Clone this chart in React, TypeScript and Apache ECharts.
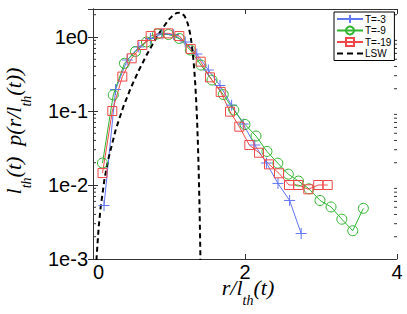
import React, { useEffect, useRef } from 'react';
import * as echarts from 'echarts';

// T=-3 (blue, plus markers)
const xT3 = [0.145, 0.297, 0.45, 0.603, 0.755, 0.908, 1.061, 1.213, 1.366, 1.518, 1.671, 1.824, 1.976, 2.129, 2.282, 2.434, 2.587, 2.739];
const yT3 = [0.00528, 0.195, 0.489, 0.733, 0.954, 1.1, 1.08, 0.856, 0.589, 0.358, 0.221, 0.12, 0.0667, 0.0347, 0.0198, 0.0105, 0.00618, 0.00221];

// T=-9 (green, circles)
const xT9 = [0.125, 0.267, 0.414, 0.559, 0.704, 0.849, 0.993, 1.136, 1.28, 1.421, 1.566, 1.714, 1.853, 2.0, 2.145, 2.289, 2.432, 2.57, 2.704, 2.842, 2.987, 3.132, 3.274, 3.418, 3.557];
const yT9 = [0.0198, 0.165, 0.441, 0.637, 0.856, 1.1, 1.08, 0.954, 0.667, 0.418, 0.262, 0.167, 0.103, 0.0657, 0.0459, 0.0284, 0.0197, 0.014, 0.0113, 0.00889, 0.00618, 0.00505, 0.00345, 0.00241, 0.00484];

// T=-19 (red, squares)
const xT19 = [0.125, 0.254, 0.386, 0.509, 0.649, 0.759, 0.872, 0.991, 1.136, 1.286, 1.417, 1.539, 1.68, 1.803, 1.925, 2.057, 2.184, 2.316, 2.447, 2.579, 2.701, 2.833, 2.964, 3.088];
const yT19 = [0.0145, 0.1, 0.292, 0.515, 0.78, 1.03, 1.12, 1.12, 1.03, 0.689, 0.464, 0.285, 0.181, 0.098, 0.0614, 0.0347, 0.0273, 0.019, 0.0144, 0.01, 0.01, 0.00875, 0.01, 0.01];

// LSW (black dashed)
const xLSW = [0.04, 0.05, 0.075, 0.1, 0.15, 0.2, 0.3, 0.4, 0.5, 0.6, 0.7, 0.8, 0.9, 1.0, 1.05, 1.1, 1.15, 1.2, 1.225, 1.25, 1.275, 1.3, 1.315, 1.33, 1.345, 1.36, 1.37, 1.38, 1.39, 1.4, 1.405, 1.41, 1.415];
const yLSW = [0.00074, 0.00117, 0.0027, 0.00494, 0.0118, 0.0222, 0.0565, 0.115, 0.208, 0.349, 0.558, 0.855, 1.25, 1.73, 1.95, 2.11, 2.14, 1.95, 1.75, 1.48, 1.15, 0.79, 0.58, 0.39, 0.238, 0.124, 0.0721, 0.0373, 0.0166, 0.0061, 0.00335, 0.0017, 0.00079];

const seriesNames = ['T=-3', 'T=-9', 'T=-19', 'LSW'];
const xTickLabels = ['0', '2', '4'];
const yTickLabels = ['1e-3', '1e-2', '1e-1', '1e0'];
const minorTicks = [
  0.002, 0.003, 0.004, 0.005, 0.006, 0.007, 0.008, 0.009,
  0.02, 0.03, 0.04, 0.05, 0.06, 0.07, 0.08, 0.09,
  0.2, 0.3, 0.4, 0.5, 0.6, 0.7, 0.8, 0.9,
  2,
];

const BLUE = '#6275f2';
const GREEN = '#2fb52f';
const RED = '#f04848';
const AXIS = '#333333';
const SANS = 'Liberation Sans, Arial, Helvetica, sans-serif';
const SERIF = 'Liberation Serif, Times New Roman, serif';

const zip = (xs: number[], ys: number[]) => xs.map((x, i) => [x, ys[i]]);

export default function App() {
  const ref = useRef<HTMLDivElement>(null);
  useEffect(() => {
    if (!ref.current) return;
    const chart = echarts.init(ref.current, undefined, { renderer: 'svg' });
    const yFmt = (v: number) => {
      const e = Math.log10(v);
      const r = Math.round(e);
      if (Math.abs(e - r) > 1e-6) return '';
      return yTickLabels[r + 3] ?? '';
    };
    const xFmt = (v: number) => {
      const idx = Math.round(v / 2);
      return Math.abs(v - idx * 2) < 1e-6 ? xTickLabels[idx] ?? '' : '';
    };
    const rich = {
      m: { fontSize: 22, fontStyle: 'italic', fontFamily: SERIF, verticalAlign: 'top', color: '#000' },
      s: { fontSize: 14, fontStyle: 'italic', fontFamily: SERIF, verticalAlign: 'top', padding: [17, 0, 0, 0], color: '#000' },
    };
    const line = (name: string, xs: number[], ys: number[], color: string, symbol: string, size: number) => ({
      name,
      type: 'line',
      data: zip(xs, ys),
      xAxisIndex: 0,
      yAxisIndex: 0,
      symbol,
      symbolSize: size,
      showAllSymbol: true,
      lineStyle: { color, width: 1 },
      itemStyle: { color: 'rgba(0,0,0,0)', borderColor: color, borderWidth: 1 },
      emphasis: { disabled: true },
    });
    chart.setOption({
      animation: false,
      grid: { left: 93, right: 10, top: 9, bottom: 55, containLabel: false },
      xAxis: [
        {
          type: 'value', min: 0, max: 4, interval: 2, position: 'bottom',
          axisLine: { show: true, lineStyle: { color: AXIS, width: 1 } },
          axisTick: { show: true, inside: true, length: 5, lineStyle: { color: AXIS } },
          axisLabel: { formatter: xFmt, fontSize: 20, fontFamily: SANS, color: '#000', margin: 3, alignMinLabel: 'left' },
          splitLine: { show: false },
        },
        {
          type: 'value', min: 0, max: 4, interval: 2, position: 'top',
          axisLine: { show: true, lineStyle: { color: AXIS, width: 1 } },
          axisTick: { show: true, inside: true, length: 5, lineStyle: { color: AXIS } },
          axisLabel: { show: false },
          splitLine: { show: false },
        },
      ],
      yAxis: [
        {
          type: 'log', min: 0.001, max: 2.39, logBase: 10, position: 'left',
          axisLine: { show: true, lineStyle: { color: AXIS, width: 1 } },
          axisTick: { show: true, inside: true, length: 5, lineStyle: { color: AXIS } },
          axisLabel: { formatter: yFmt, fontSize: 20, fontFamily: SANS, color: '#000', margin: 5, showMaxLabel: false },
          splitLine: { show: false },
        },
        {
          type: 'log', min: 0.001, max: 2.39, logBase: 10, position: 'right',
          axisLine: { show: true, lineStyle: { color: AXIS, width: 1 } },
          axisTick: { show: true, inside: true, length: 5, lineStyle: { color: AXIS } },
          axisLabel: { show: false },
          splitLine: { show: false },
        },
      ],
      legend: {
        data: [
          seriesNames[0],
          seriesNames[1],
          seriesNames[2],
          { name: seriesNames[3], icon: 'path://M0,0h6v2h-6z M10,0h6v2h-6z M20,0h6v2h-6z', itemStyle: { color: '#000' } },
        ],
        orient: 'vertical',
        left: 334,
        top: 12,
        padding: [2, 3, 2, 2],
        itemGap: 1.5,
        itemWidth: 26,
        itemHeight: 10,
        backgroundColor: '#fff',
        borderColor: '#000',
        borderWidth: 1,
        borderRadius: 0,
        textStyle: { fontSize: 10, fontFamily: SANS, color: '#000', lineHeight: 10, padding: [0, 0, 0, -3] },
        selectedMode: false,
      },
      series: [
        line(seriesNames[0], xT3, yT3, BLUE, 'path://M5,0L5,10M0,5L10,5', 11),
        line(seriesNames[1], xT9, yT9, GREEN, 'circle', 10),
        line(seriesNames[2], xT19, yT19, RED, 'rect', 9),
        {
          name: seriesNames[3],
          type: 'line',
          data: zip(xLSW, yLSW),
          symbol: 'none',
          lineStyle: { color: '#000', width: 2, type: [5, 3.5] },
          itemStyle: { color: '#000' },
          emphasis: { disabled: true },
        },
        {
          type: 'custom',
          silent: true,
          clip: false,
          data: minorTicks.map((v) => [0, v]),
          renderItem: (_params: any, api: any) => {
            const v = api.value(1);
            const l = api.coord([0, v]);
            const r = api.coord([4, v]);
            return {
              type: 'group',
              children: [
                { type: 'line', shape: { x1: l[0], y1: l[1], x2: l[0] + 3, y2: l[1] }, style: { stroke: AXIS, lineWidth: 1 } },
                { type: 'line', shape: { x1: r[0] - 3, y1: r[1], x2: r[0], y2: r[1] }, style: { stroke: AXIS, lineWidth: 1 } },
              ],
            };
          },
        },
      ],
      graphic: [
        {
          type: 'text',
          x: 18,
          y: 131,
          rotation: Math.PI / 2,
          style: {
            text: '{m|l}{s|th}{m|(t)  p(r/l}{s|th}{m|(t))}',
            rich,
            align: 'center',
            verticalAlign: 'middle',
          },
        },
        {
          type: 'text',
          x: 248,
          y: 292,
          style: {
            text: '{m|r/l}{s|th}{m|(t)}',
            rich,
            align: 'center',
            verticalAlign: 'middle',
          },
        },
      ],
    });
    return () => chart.dispose();
  }, []);
  return <div ref={ref} style={{ position: 'absolute', left: 0, top: 0, width: 407, height: 314 }} />;
}
